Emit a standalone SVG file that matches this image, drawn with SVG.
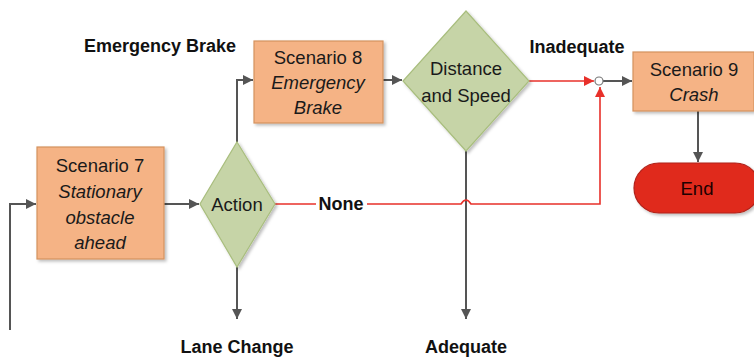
<svg xmlns="http://www.w3.org/2000/svg" width="754" height="357" viewBox="0 0 754 357">
<style>
.box{fill:#F5B385;stroke:#D4925E;stroke-width:1.2}
.dia{fill:#C6D4A7;stroke:#A9BE7E;stroke-width:1.2}
.end{fill:#E0291F;stroke:#B0221A;stroke-width:1.2}
.t{font-family:"Liberation Sans",Arial,sans-serif;font-size:18.5px;fill:#1a1a1a;text-anchor:middle;dominant-baseline:central}
.i{font-style:italic}
.lbl{font-family:"Liberation Sans",Arial,sans-serif;font-size:18px;font-weight:bold;fill:#111;text-anchor:middle;dominant-baseline:central}
.g{fill:none;stroke:#555;stroke-width:2}
.r{fill:none;stroke:#E8302A;stroke-width:1.6}
</style>
<defs>
<filter id="sh" x="-10%" y="-10%" width="130%" height="130%"><feDropShadow dx="2" dy="2" stdDeviation="1.5" flood-color="#000" flood-opacity="0.25"/></filter>
<marker id="ag" markerWidth="12" markerHeight="12" refX="10" refY="5" orient="auto" markerUnits="userSpaceOnUse"><path d="M0,0 L10,5 L0,10 z" fill="#555"/></marker>
<marker id="ar" markerWidth="12" markerHeight="12" refX="10" refY="5" orient="auto" markerUnits="userSpaceOnUse"><path d="M0,0 L10,5 L0,10 z" fill="#E8302A"/></marker>
</defs>
<g id="connectors">
<path class="g" d="M10,330 V204 H36" marker-end="url(#ag)"/>
<path class="g" d="M164,204 H199" marker-end="url(#ag)"/>
<path class="g" d="M237,142 V80 H253" marker-end="url(#ag)"/>
<path class="g" d="M383,80 H402" marker-end="url(#ag)"/>
<path class="g" d="M237,267 V319" marker-end="url(#ag)"/>
<path class="g" d="M466,151 V319" marker-end="url(#ag)"/>
<path class="r" d="M529,81 H594" marker-end="url(#ar)"/>
<path class="r" d="M275,204 H316"/>
<path class="r" d="M367,204 H461 Q466,196 471,204 H600 V87" marker-end="url(#ar)"/>
<path class="g" d="M603,81 H632" marker-end="url(#ag)"/>
<path class="g" d="M698,111 V162" marker-end="url(#ag)"/>
<circle cx="599" cy="81" r="4" fill="#fff" stroke="#777" stroke-width="1.2"/>
</g>
<g id="scenario7"><rect class="box" x="37" y="147" width="127" height="112" filter="url(#sh)"/>
<text class="t" x="100" y="165">Scenario 7</text>
<text class="t i" x="100" y="191">Stationary</text>
<text class="t i" x="100" y="217">obstacle</text>
<text class="t i" x="100" y="242">ahead</text></g>
<g id="action"><path class="dia" d="M237,142 L275,204 L237,267 L200,204 z" filter="url(#sh)"/>
<text class="t" x="237" y="204">Action</text></g>
<g id="scenario8"><rect class="box" x="254" y="41" width="129" height="82" filter="url(#sh)"/>
<text class="t" x="318" y="57">Scenario 8</text>
<text class="t i" x="318" y="82">Emergency</text>
<text class="t i" x="318" y="107">Brake</text></g>
<g id="distance"><path class="dia" d="M466,11 L529,81 L466,151 L403,81 z" filter="url(#sh)"/>
<text class="t" x="466" y="68">Distance</text>
<text class="t" x="466" y="95">and Speed</text></g>
<g id="scenario9"><rect class="box" x="633" y="52" width="121" height="59" filter="url(#sh)"/>
<text class="t" x="694" y="69">Scenario 9</text>
<text class="t i" x="694" y="94">Crash</text></g>
<g id="end"><rect class="end" x="634" y="163" width="126" height="50" rx="25" filter="url(#sh)"/>
<text x="697" y="188" fill="#200000" font-family="Liberation Sans, Arial, sans-serif" font-size="18.5" text-anchor="middle" dominant-baseline="central">End</text></g>
<g id="labels">
<text class="lbl" x="160" y="46">Emergency Brake</text>
<text class="lbl" x="577" y="47">Inadequate</text>
<text class="lbl" x="341" y="204">None</text>
<text class="lbl" x="237" y="347">Lane Change</text>
<text class="lbl" x="466" y="347">Adequate</text>
</g>
</svg>
